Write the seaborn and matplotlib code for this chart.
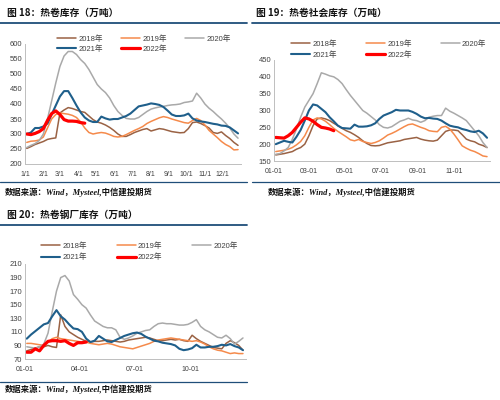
import matplotlib
matplotlib.use('Agg')
import matplotlib.pyplot as plt
import seaborn as sns
from matplotlib.lines import Line2D

# ---- data (weekly readings, first point ~Jan 3) ----
years = ['2018年', '2019年', '2020年', '2021年', '2022年']

# 图18 热卷库存
hr_2018 = [252, 258, 265, 270, 275, 282, 285, 287, 370, 380, 388, 385, 380, 375, 372, 360, 348, 340, 336, 330,
           322, 312, 300, 292, 292, 298, 305, 310, 315, 318, 310, 314, 318, 316, 312, 308, 306, 304, 305, 318,
           338, 340, 335, 328, 320, 305, 302, 307, 295, 285, 272, 262]
hr_2019 = [272, 276, 277, 280, 290, 320, 350, 365, 370, 368, 366, 362, 355, 340, 320, 305, 300, 303, 305, 303,
           298, 292, 290, 292, 298, 305, 312, 318, 325, 335, 342, 348, 354, 358, 355, 350, 346, 342, 338, 336,
           345, 352, 345, 330, 312, 300, 288, 275, 265, 258, 247, 248]
hr_2020 = [255, 262, 268, 278, 300, 350, 410, 470, 525, 560, 575, 575, 565, 548, 535, 515, 490, 465, 450, 438,
           420, 395, 375, 362, 352, 350, 350, 355, 365, 375, 383, 387, 390, 392, 395, 397, 398, 400, 405, 407,
           410, 436, 420, 400, 386, 375, 362, 350, 336, 320, 300, 286]
hr_2021 = [300, 305, 320, 320, 325, 335, 365, 395, 425, 443, 443, 420, 395, 372, 355, 345, 340, 340, 358, 352,
           348, 350, 350, 355, 360, 368, 380, 392, 395, 398, 402, 400, 397, 390, 378, 365, 360, 360, 362, 368,
           352, 345, 342, 340, 337, 334, 332, 328, 327, 322, 312, 302]
hr_2022 = [300, 298, 302, 308, 318, 345, 368, 377, 365, 348, 343, 343, 342, 338, 336]

# 图19 热卷社会库存
soc_2018 = [168, 170, 172, 175, 178, 185, 190, 200, 225, 255, 275, 278, 275, 270, 262, 255, 247, 240, 235, 228,
            220, 210, 202, 196, 195, 196, 200, 204, 206, 208, 210, 214, 216, 218, 220, 215, 212, 210, 209, 212,
            225, 238, 242, 242, 240, 228, 215, 210, 207, 200, 196, 190]
soc_2019 = [178, 180, 182, 185, 190, 198, 208, 225, 250, 272, 278, 275, 268, 258, 247, 238, 230, 222, 213, 210,
            214, 208, 205, 202, 205, 210, 218, 227, 232, 238, 245, 252, 258, 260, 255, 250, 246, 240, 238, 237,
            250, 253, 245, 230, 213, 195, 188, 182, 178, 172, 165, 163]
soc_2020 = [170, 172, 180, 190, 215, 245, 280, 310, 330, 350, 380, 412, 408, 403, 400, 392, 380, 362, 345, 330,
            315, 300, 292, 282, 272, 258, 250, 248, 252, 260, 268, 272, 277, 272, 270, 265, 270, 280, 283, 285,
            285, 307, 298, 292, 285, 278, 270, 255, 240, 225, 205, 190]
soc_2021 = [200, 205, 210, 207, 205, 222, 242, 270, 300, 318, 315, 305, 295, 280, 268, 255, 248, 247, 246, 258,
            252, 252, 253, 256, 262, 275, 285, 290, 295, 302, 300, 300, 300, 296, 290, 282, 277, 278, 276, 275,
            270, 262, 255, 252, 250, 245, 242, 238, 236, 240, 232, 219]
soc_2022 = [220, 219, 218, 225, 235, 250, 265, 278, 275, 268, 258, 250, 248, 245, 240]

# 图20 热卷钢厂库存
mill_2018 = [82, 84, 86, 88, 88, 90, 88, 87, 135, 118, 110, 106, 102, 99, 96, 95, 96, 96, 97, 98,
             97, 96, 95, 96, 98, 99, 100, 101, 102, 101, 99, 97, 97, 98, 99, 98, 99, 97, 96, 105,
             100, 96, 93, 90, 87, 86, 85, 93, 97, 94, 90, 83]
mill_2019 = [93, 93, 92, 91, 90, 95, 100, 102, 100, 99, 98, 97, 96, 95, 95, 93, 92, 91, 92, 93,
             92, 90, 88, 87, 86, 85, 87, 89, 91, 93, 96, 98, 99, 100, 101, 100, 99, 98, 97, 96,
             97, 95, 92, 88, 85, 83, 82, 80, 78, 79, 78, 78]
mill_2020 = [88, 87, 86, 88, 92, 108, 140, 170, 190, 193, 185, 165, 158, 150, 145, 135, 126, 122, 118, 116,
             116, 113, 102, 99, 101, 104, 108, 110, 112, 113, 118, 122, 123, 122, 122, 121, 120, 120, 121, 124,
             128, 118, 113, 110, 106, 102, 101, 105, 100, 92, 96, 101]
mill_2021 = [100, 106, 111, 116, 121, 123, 133, 142, 133, 128, 121, 115, 114, 110, 100, 95, 97, 104, 100, 96,
             95, 98, 101, 104, 106, 108, 109, 107, 103, 100, 97, 96, 94, 93, 92, 90, 85, 83, 84, 86,
             91, 87, 87, 88, 88, 89, 91, 90, 92, 89, 87, 83]
mill_2022 = [80, 80, 85, 82, 90, 96, 97, 97, 96, 97, 93, 90, 94, 94, 95]

month_ticks = [0, 31, 59, 90, 120, 151, 181, 212, 243, 273, 304, 334]
month_labels = ['1/1', '2/1', '3/1', '4/1', '5/1', '6/1', '7/1', '8/1', '9/1', '10/1', '11/1', '12/1']

colors = ['#9A6244', '#F58A4B', '#A9A9A9', '#1F5F8B', '#FF0000']
widths = [1.1, 1.1, 1.1, 1.5, 2.3]

sns.set_theme(style='white')
plt.rcParams['font.family'] = ['Liberation Sans', 'Noto Sans CJK SC']

fig = plt.figure(figsize=(5, 4), dpi=100)
W, H = 500, 400


def px_axes(left, top, right, bottom):
    return fig.add_axes([left / W, 1 - bottom / H, (right - left) / W, (bottom - top) / H])


def draw_panel(ax, series, ticks, labels, ylim, ystep, leg_xy, colsp, labsp):
    for name, vals, c, lw in zip(years, series, colors, widths):
        days = [3 + 7 * i for i in range(len(vals))]
        sns.lineplot(x=days, y=vals, ax=ax, color=c, linewidth=lw, label=name)
    ax.set_xlim(0, 365)
    ax.set_ylim(*ylim)
    ax.set_xticks(ticks, labels)
    ax.set_yticks(range(ylim[0], ylim[1] + 1, ystep))
    ax.set_xlabel('')
    ax.set_ylabel('')
    ax.tick_params(axis='both', labelsize=5.5, colors='#404040', pad=2)
    ax.tick_params(axis='x', labelsize=5, length=2, color='#BFBFBF', width=0.6, pad=3)
    ax.tick_params(axis='y', length=0)
    for s in ['top', 'right']:
        ax.spines[s].set_visible(False)
    for s in ['left', 'bottom']:
        ax.spines[s].set_color('#BFBFBF')
        ax.spines[s].set_linewidth(0.7)
    h, l = ax.get_legend_handles_labels()
    order = [0, 3, 1, 4, 2]
    ax.legend([h[i] for i in order], [l[i] for i in order], ncol=3, frameon=False,
              loc='upper left', bbox_to_anchor=(leg_xy[0] / W, 1 - leg_xy[1] / H),
              bbox_transform=fig.transFigure, fontsize=5.5, handlelength=2.5,
              handletextpad=0.3, columnspacing=colsp, labelspacing=labsp, borderpad=0,
              labelcolor='#404040')


ax1 = px_axes(25, 44, 241, 164)
draw_panel(ax1, [hr_2018, hr_2019, hr_2020, hr_2021, hr_2022], month_ticks, month_labels,
           (200, 600), 50, (53, 31), 2.4, 0.3)

ax2 = px_axes(274, 60, 490, 161)
draw_panel(ax2, [soc_2018, soc_2019, soc_2020, soc_2021, soc_2022], [0, 59, 120, 181, 243, 304],
           ['01-01', '03-01', '05-01', '07-01', '09-01', '11-01'], (150, 450), 50, (287, 36), 3.8, 0.45)

ax3 = px_axes(25, 264, 246, 359)
draw_panel(ax3, [mill_2018, mill_2019, mill_2020, mill_2021, mill_2022], [0, 90, 181, 273],
           ['01-01', '04-01', '07-01', '10-01'], (70, 210), 20, (37, 238), 3.9, 0.55)

# titles, rules and source notes
title_font = ['Noto Sans CJK SC', 'DejaVu Sans']
src_font = ['Liberation Serif', 'Noto Sans CJK SC']
titles = [('图 18：热卷库存（万吨）', 7, 13), ('图 19：热卷社会库存（万吨）', 256, 13),
          ('图 20：热卷钢厂库存（万吨）', 7, 215)]
for txt, x, y in titles:
    fig.text(x / W, 1 - y / H, txt, family=title_font, fontweight='bold', fontsize=7,
             va='center', ha='left', color='#111111')

rules = [(0, 247, 23, 1.3), (252, 500, 23, 1.3), (0, 247, 182, 0.9), (252, 500, 182, 0.9),
         (0, 247, 225, 1.3), (0, 247, 382, 0.9)]
for x0, x1, y, lw in rules:
    fig.add_artist(Line2D([x0 / W, x1 / W], [1 - y / H, 1 - y / H], transform=fig.transFigure,
                          color='#1F4E79', linewidth=lw))

source = '数据来源：Wind，Mysteel,中信建投期货'
for x, y in [(5, 192), (268, 192), (5, 389)]:
    fig.text(x / W, 1 - y / H, source, family=src_font, fontstyle='italic', fontweight='bold',
             fontsize=6, va='center', ha='left', color='#111111')

fig.savefig('out.png', dpi=100, facecolor='white')
